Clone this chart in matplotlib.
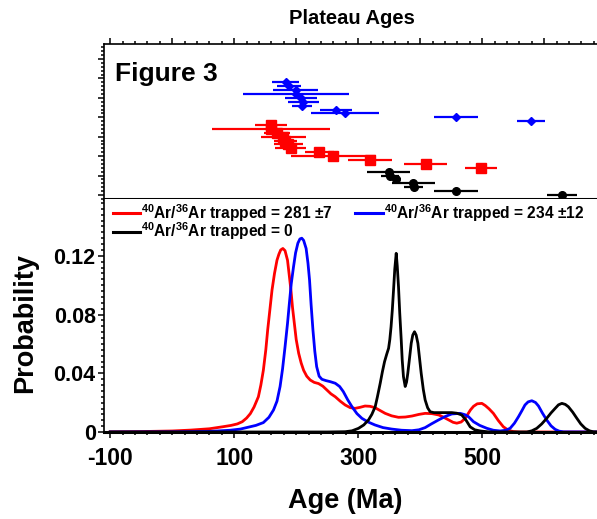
import matplotlib
matplotlib.use('Agg')
import matplotlib.pyplot as plt
from matplotlib.ticker import MultipleLocator

plt.rcParams['font.family'] = ['Liberation Sans', 'DejaVu Sans']
plt.rcParams['font.weight'] = 'bold'
plt.rcParams['axes.unicode_minus'] = False
plt.rcParams['mathtext.fontset'] = 'custom'
plt.rcParams['mathtext.rm'] = 'Liberation Sans:bold'
plt.rcParams['mathtext.bf'] = 'Liberation Sans:bold'
plt.rcParams['mathtext.it'] = 'Liberation Sans:bold'
plt.rcParams['mathtext.default'] = 'rm'

# ---------------- data ----------------
# Plateau ages (Ma) with errors, top panel
blue_age = [183, 188, 199, 199, 208, 211, 210, 264, 279, 458, 579]
blue_err = [22, 19.5, 36, 85.5, 26, 25, 16, 25.5, 55, 35.5, 23]
red_age = [159, 159.5, 169.5, 179.5, 182.5, 187.5, 191, 237.5, 260, 318.5, 409, 498]
red_err = [26, 95, 21, 36, 18, 24, 25, 24, 68, 35.5, 35, 25.5]
black_age = [349, 351, 361, 389, 389.5, 458, 628.5]
black_err = [35, 15, 8, 35, 15, 35.5, 24.5]

# Probability curves, bottom panel
red_x = [-100, -50, 0, 30, 60, 82, 95, 105, 113, 120, 126, 132, 139, 143, 147, 151, 154, 158,
         161, 165, 169, 172, 175, 178.5, 182, 186, 189, 191.5, 194, 197, 200, 204, 208, 212,
         217, 222.6, 229, 236, 243, 249.5, 256, 263, 271, 279, 287, 295, 303, 311, 319, 327,
         335, 343.5, 354, 365, 376, 387, 398, 408, 419, 430, 438, 446, 453, 459, 466, 472.6,
         477, 481, 486, 492, 499.5, 505, 511, 518, 526, 534, 542, 550, 560, 690]
red_y = [0.0001, 0.0003, 0.0007, 0.0013, 0.0022, 0.0036, 0.0045, 0.0055, 0.007, 0.0095,
         0.0125, 0.017, 0.024, 0.032, 0.042, 0.056, 0.0695, 0.085, 0.0967, 0.108, 0.117,
         0.121, 0.124, 0.125, 0.1235, 0.117, 0.106, 0.0967, 0.085, 0.074, 0.063, 0.0536,
         0.047, 0.042, 0.038, 0.0354, 0.0338, 0.033, 0.0312, 0.0286, 0.026, 0.024, 0.021,
         0.0184, 0.0166, 0.0161, 0.0168, 0.0177, 0.0175, 0.0166, 0.0147, 0.0127, 0.011,
         0.010, 0.0102, 0.0109, 0.012, 0.0127, 0.0125, 0.0116, 0.0100, 0.0082, 0.0066,
         0.006, 0.0068, 0.0093, 0.0123, 0.015, 0.0175, 0.0192, 0.0195, 0.018, 0.0158,
         0.0127, 0.0078, 0.0036, 0.0012, 0.0003, 0.0, 0.0]

blue_x = [-100, 0, 60, 93.5, 110, 120, 135, 147, 156, 163.4, 169, 174, 178, 182, 186, 189,
          192, 195.7, 199, 202.7, 206, 209, 212, 216, 219, 221.5, 224, 227, 230, 233, 237,
          241.5, 248, 254.8, 263, 270, 276, 283, 290, 298, 306, 316, 327, 340, 354, 370,
          386.6, 398, 408, 418, 429.5, 440, 451, 464.5, 472, 478, 486, 496, 507.6, 518, 529,
          538, 545, 552, 558.5, 564, 569, 574, 580, 586, 590.8, 597, 604, 611, 617.7, 624,
          631, 690]
blue_y = [0.0, 0.0001, 0.0004, 0.0012, 0.002, 0.003, 0.0045, 0.0064, 0.01, 0.015, 0.021,
          0.031, 0.043, 0.058, 0.074, 0.0877, 0.101, 0.1126, 0.122, 0.1286, 0.1315, 0.132,
          0.1305, 0.125, 0.115, 0.1036, 0.087, 0.0695, 0.055, 0.0445, 0.038, 0.0359, 0.035,
          0.0343, 0.0332, 0.031, 0.0275, 0.022, 0.0172, 0.0125, 0.0093, 0.0068, 0.0048,
          0.003, 0.002, 0.0012, 0.0009, 0.0015, 0.003, 0.0055, 0.0082, 0.0105, 0.0123,
          0.0127, 0.0118, 0.0104, 0.007, 0.0045, 0.0025, 0.0012, 0.0007, 0.0012, 0.0025,
          0.006, 0.0104, 0.0145, 0.0184, 0.0205, 0.0213, 0.0201, 0.0177, 0.013, 0.0082,
          0.0042, 0.0018, 0.0006, 0.0001, 0.0]

black_x = [-100, 250, 279, 290, 300.5, 309, 316.6, 322, 327.4, 331, 335.5, 339, 342.5, 346,
           349, 351, 353, 355, 357, 359, 361.3, 363, 365, 367, 369.4, 371, 373, 375.8, 378,
           380, 383, 385.5, 388, 390.8, 393.5, 396.3, 399, 401.6, 405, 408, 412, 416, 422,
           429.5, 440, 451, 459, 467, 474, 480.6, 488, 497, 510, 518, 572, 580, 588, 596, 604,
           611, 617.7, 623, 628.5, 634, 639, 646, 652.7, 659, 666, 673, 679.5, 690]
black_y = [0.0, 0.0, 0.0002, 0.0008, 0.0025, 0.0048, 0.0082, 0.012, 0.0172, 0.024, 0.0332,
           0.041, 0.0479, 0.053, 0.057, 0.063, 0.0717, 0.083, 0.0967, 0.111, 0.1217, 0.113,
           0.099, 0.081, 0.0627, 0.049, 0.0377, 0.031, 0.034, 0.040, 0.051, 0.0604, 0.066,
           0.0683, 0.066, 0.0604, 0.050, 0.040, 0.029, 0.0218, 0.0165, 0.0138, 0.0132, 0.0132,
           0.0132, 0.0132, 0.0128, 0.0116, 0.008, 0.0035, 0.0015, 0.0007, 0.0001, 0.0, 0.0,
           0.0008, 0.0025, 0.0055, 0.0093, 0.013, 0.0161, 0.0185, 0.0195, 0.0188, 0.0172,
           0.0135, 0.0093, 0.0055, 0.0025, 0.0008, 0.0001, 0.0]

labels = [r'$^{40}$Ar/$^{36}$Ar trapped = 281 ±7',
          r'$^{40}$Ar/$^{36}$Ar trapped = 234 ±12',
          r'$^{40}$Ar/$^{36}$Ar trapped = 0']
x_ticks = [-100, 100, 300, 500]
y_ticks = [0, 0.04, 0.08, 0.12]
y_ticklabels = ['0', '0.04', '0.08', '0.12']

# ---------------- figure ----------------
W, H = 597, 519
fig = plt.figure(figsize=(W / 100, H / 100), dpi=100)
L, R = 104, 600
axt = fig.add_axes([L / W, 1 - 199 / H, (R - L) / W, (199 - 44) / H])
ax = fig.add_axes([L / W, 1 - 432 / H, (R - L) / W, (432 - 199) / H])

xlim = (-110, 690)

# top panel
nb, nr, nk = len(blue_age), len(red_age), len(black_age)
yb = list(range(1, nb + 1))
yr = list(range(nb + 1, nb + nr + 1))
yk = list(range(nb + nr + 1, nb + nr + nk + 1))
ekw = dict(linestyle='none', elinewidth=1.6, capsize=0)
axt.errorbar(blue_age, yb, xerr=blue_err, color='#0000ff', marker='D', ms=4.5, **ekw)
axt.errorbar(red_age, yr, xerr=red_err, color='#ff0000', marker='s', ms=6.5, **ekw)
axt.errorbar(black_age, yk, xerr=black_err, color='black', marker='o', ms=5.5, **ekw)
axt.set_xlim(*xlim)
axt.set_ylim(31.03, -8.86)
axt.xaxis.set_major_locator(MultipleLocator(100))
axt.xaxis.set_minor_locator(MultipleLocator(20))
axt.yaxis.set_major_locator(MultipleLocator(5))
axt.yaxis.set_minor_locator(MultipleLocator(1))
axt.tick_params(axis='x', which='both', top=True, bottom=True, labeltop=False,
                labelbottom=False, direction='out')
axt.tick_params(axis='y', which='both', left=True, right=False, labelleft=False,
                direction='out')
axt.tick_params(which='major', length=4, width=1.1)
axt.tick_params(which='minor', length=2.5, width=1.1)
for s in ['left', 'top', 'right']:
    axt.spines[s].set_linewidth(1.2)
axt.spines['bottom'].set_linewidth(2.2)
axt.text(115 / W, 1 - 81 / H, 'Figure 3', transform=fig.transFigure, fontsize=19,
         fontweight='bold', ha='left', va='baseline')

# bottom panel
l1, = ax.plot(red_x, red_y, color='#ff0000', lw=2.0)
l2, = ax.plot(blue_x, blue_y, color='#0000ff', lw=2.0)
l3, = ax.plot(black_x, black_y, color='black', lw=2.0)
ax.set_xlim(*xlim)
ax.set_ylim(0, 0.1587)
ax.set_xticks(x_ticks)
ax.set_xticklabels([str(v) for v in x_ticks])
ax.set_yticks(y_ticks)
ax.set_yticklabels(y_ticklabels)
ax.xaxis.set_minor_locator(MultipleLocator(20))
ax.yaxis.set_minor_locator(MultipleLocator(0.004))
ax.spines['top'].set_visible(False)
ax.spines['right'].set_visible(False)
ax.spines['bottom'].set_linewidth(2.2)
ax.spines['left'].set_linewidth(1.2)
ax.tick_params(which='both', direction='out', width=1.1)
ax.tick_params(which='major', length=4.5)
ax.tick_params(which='minor', length=2.5)
ax.tick_params(axis='x', which='major', labelsize=16.5, pad=6)
ax.tick_params(axis='y', which='major', labelsize=15.5, pad=1.5)
for t in ax.get_xticklabels() + ax.get_yticklabels():
    t.set_fontweight('bold')

fig.text(345 / W, 1 - 501 / H, 'Age (Ma)', fontsize=19.5, fontweight='bold',
         ha='center', va='center')
fig.text(25 / W, 1 - 323 / H, 'Probability', fontsize=19.5, fontweight='bold',
         ha='center', va='center', rotation=90)
fig.text(352 / W, 1 - 18 / H, 'Plateau Ages', fontsize=14.5, fontweight='bold',
         ha='center', va='center')

leg = ax.legend([l1, l3, l2], [labels[0], labels[2], labels[1]], ncol=2,
                loc='upper left', bbox_to_anchor=(112.5 / W, 1 - 202 / H),
                bbox_transform=fig.transFigure, frameon=False, fontsize=11.2,
                handlelength=1.75, handletextpad=0.1, columnspacing=1.45,
                labelspacing=-0.22, borderpad=0, borderaxespad=0)
for t in leg.get_texts():
    t.set_fontweight('bold')
for h in leg.get_lines():
    h.set_linewidth(2.2)

fig.savefig('out.png', dpi=100)
